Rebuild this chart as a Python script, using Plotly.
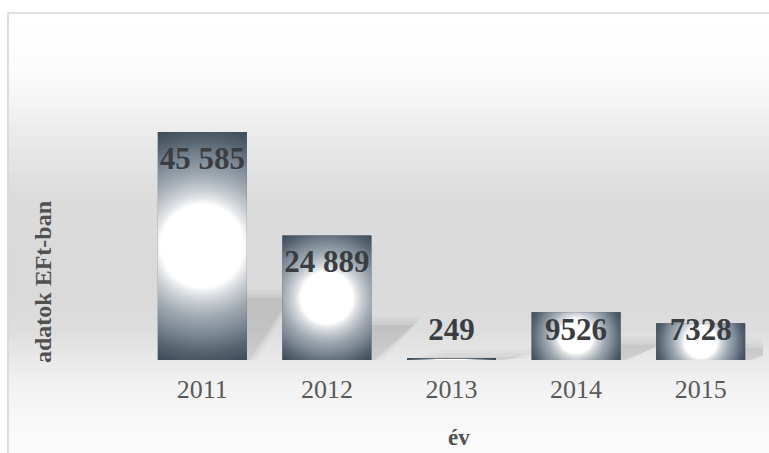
import math
import plotly.graph_objects as go

# ---------------- data ----------------
years = ["2011", "2012", "2013", "2014", "2015"]
values = [45585, 24889, 249, 9526, 7328]
value_labels = ["45 585", "24 889", "249", "9526", "7328"]
x_title = "év"
y_title = "adatok EFt-ban"

# ---------------- layout constants ----------------
W, H = 769, 453
L, R, T, B = 140, 6, 40, 93
YMAX = 64000
BAR_W = 0.714
plot_w = W - L - R
plot_h = H - T - B
UX = 5.0 / plot_w          # x data units per pixel
UY = YMAX / plot_h         # y data units per pixel


def pxx(px):
    return (px - L) / plot_w


def pxy(py):
    return (H - B - py) / plot_h


xs = list(range(len(years)))
fig = go.Figure()

# ---------------- background (vertical gray gradient inside frame) ----------------
bg_stops = [(13, 255), (60, 253), (100, 245), (130, 236), (170, 226), (200, 219),
            (290, 218), (330, 221), (360, 233), (385, 242), (420, 248), (453, 251)]


def bg_level(py):
    for (a, ca), (b, cb) in zip(bg_stops[:-1], bg_stops[1:]):
        if a <= py <= b:
            t = (py - a) / (b - a)
            return round(ca + (cb - ca) * t)
    return bg_stops[-1][1]


shapes = []
step = 3
py = 13
while py < 460:
    g = bg_level(py + step / 2)
    shapes.append(dict(type="rect", xref="paper", yref="paper", layer="below",
                       x0=pxx(8), x1=pxx(780), y0=pxy(py + step + 0.5), y1=pxy(py),
                       fillcolor=f"rgb({g},{g},{g})", line=dict(width=0)))
    py += step
shapes.append(dict(type="rect", xref="paper", yref="paper", layer="below",
                   x0=pxx(8), x1=pxx(790), y0=pxy(480), y1=pxy(13),
                   fillcolor="rgba(0,0,0,0)", line=dict(color="#d9d9d9", width=1.7)))

# ---------------- soft shadows behind bars ----------------
dx = 40 * UX
for i, v in enumerate(values):
    x0, x1 = i - BAR_W / 2, i + BAR_W / 2
    h = 0.26 * v
    for e_px, a in [(11, 0.022), (7, 0.035), (3, 0.06)]:
        ex, ey = e_px * UX, e_px * UY
        fig.add_trace(go.Scatter(
            x=[x0, x0 + dx, x1 + dx + ex, x1 + ex],
            y=[0, h + ey, h + ey, 0],
            mode="none", fill="toself", fillcolor=f"rgba(0,0,0,{a})",
            hoverinfo="skip", showlegend=False))

# ---------------- bars ----------------
fig.add_trace(go.Bar(x=xs, y=values, width=BAR_W, marker=dict(color="#44525f", line=dict(width=0)),
                     hoverinfo="x+y", showlegend=False))

# radial gradient (centre -> corner), made circular by giving the fill path a
# square bounding box via zero-area spokes
grad = [[0.0, "#ffffff"], [0.34, "#ffffff"], [0.38, "#e8eaec"], [0.46, "#c8cdd2"],
        [0.58, "#a0a9b1"], [0.72, "#7d8995"], [0.87, "#56636f"], [1.0, "#3c4a57"]]
for i, v in enumerate(values):
    x0, x1 = i - BAR_W / 2, i + BAR_W / 2
    cy = v / 2
    half_w_px = (BAR_W / 2) / UX
    half_h_px = (v / 2) / UY
    rad = math.hypot(half_w_px, half_h_px)
    rx, ry = rad * UX, rad * UY
    px_ = [x0, x0, i - rx, x0, x0, i, i, i, x1, x1, i + rx, x1, x1, i, i, i]
    py_ = [0, cy, cy, cy, v, v, cy + ry, v, v, cy, cy, cy, 0, 0, cy - ry, 0]
    fig.add_trace(go.Scatter(
        x=px_, y=py_,
        mode="none", fill="toself",
        fillgradient=dict(type="radial", colorscale=grad),
        line=dict(width=0, simplify=False),
        hoverinfo="skip", showlegend=False))

# ---------------- value labels ----------------
label_y = [max(v - 29 * UY, 27.5 * UY) for v in values]
fig.add_trace(go.Scatter(
    x=xs, y=label_y, mode="text", text=value_labels, textposition="middle center",
    textfont=dict(family="Liberation Serif", size=31, color="#3a3e42", weight="bold"),
    hoverinfo="skip", showlegend=False))

# ---------------- axis titles ----------------
annotations = [
    dict(text=f"<b>{y_title}</b>", xref="paper", yref="paper", x=pxx(42.5), y=pxy(282.5),
         showarrow=False, textangle=-90, xanchor="center", yanchor="middle",
         font=dict(family="Liberation Serif", size=24, color="#505050")),
    dict(text=f"<b>{x_title}</b>", xref="paper", yref="paper", x=pxx(459), y=pxy(437),
         showarrow=False, xanchor="center", yanchor="middle",
         font=dict(family="Liberation Serif", size=23, color="#505050")),
]

fig.update_layout(
    width=W, height=H,
    margin=dict(l=L, r=R, t=T, b=B),
    paper_bgcolor="white", plot_bgcolor="rgba(0,0,0,0)",
    shapes=shapes, annotations=annotations,
    showlegend=False,
    xaxis=dict(range=[-0.5, 4.5], tickvals=xs, ticktext=years, showgrid=False,
               zeroline=False, showline=False, ticks="", ticklabelstandoff=11,
               tickfont=dict(family="Liberation Serif", size=26, color="#595959"),
               fixedrange=True),
    yaxis=dict(range=[0, YMAX], visible=False, fixedrange=True),
)

fig.write_html("out.html", config={"displayModeBar": False},
               post_script="document.body.style.margin='0px';")
